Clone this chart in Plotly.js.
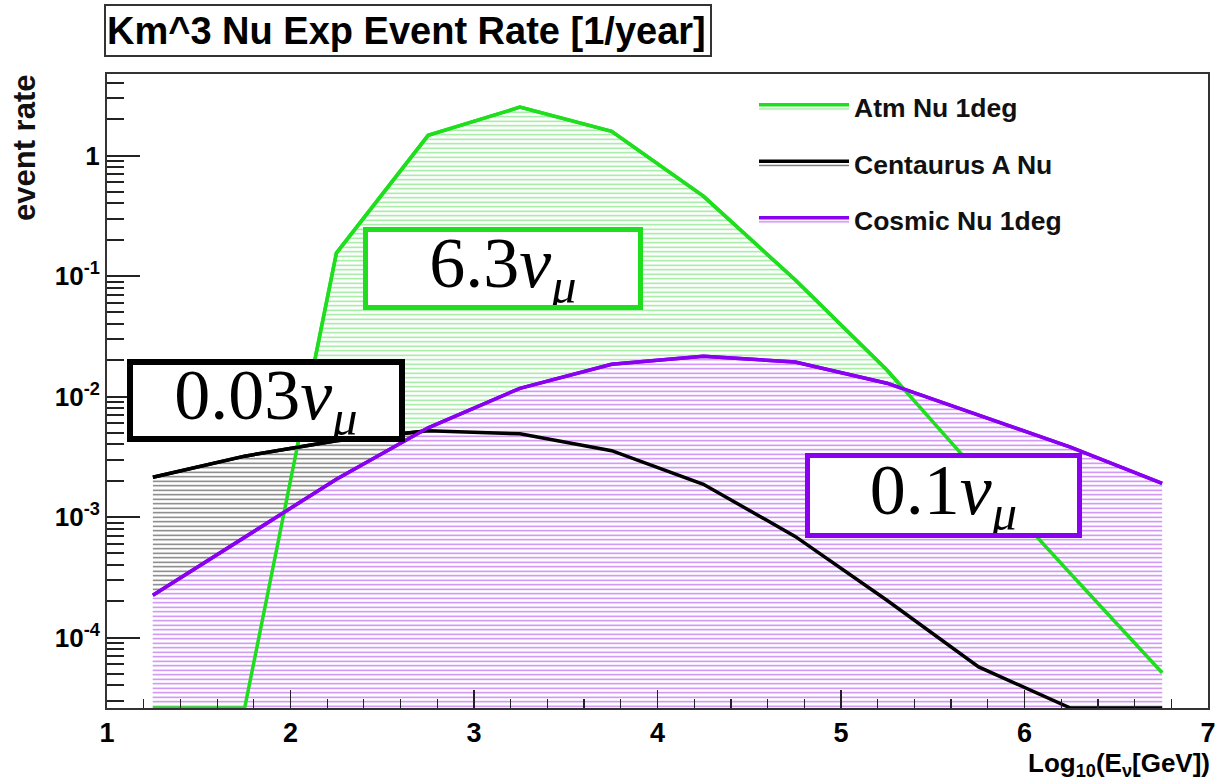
<!DOCTYPE html>
<html><head><meta charset="utf-8">
<script src="https://cdn.plot.ly/plotly-3.0.1.min.js"></script>
<style>html,body{margin:0;padding:0;background:#fff}#chart{width:1220px;height:781px}</style>
</head><body><div id="chart"></div>
<script>
// Bin centres, log10(E / GeV)
const energyLog10 = [1.25, 1.75, 2.25, 2.75, 3.25, 3.75, 4.25, 4.75, 5.25, 5.75, 6.25, 6.75];
// event rates [1/year] per bin (values at the axis floor = below range)
const atmNu       = [2.6e-5, 2.6e-5, 0.155, 1.47, 2.52, 1.59, 0.46, 0.093, 0.0166, 2.3e-3, 3.4e-4, 5.1e-5];
const centaurusNu = [2.14e-3, 3.2e-3, 4.3e-3, 5.2e-3, 4.9e-3, 3.55e-3, 1.87e-3, 6.9e-4, 2.04e-4, 5.7e-5, 2.6e-5, 2.6e-5];
const cosmicNu    = [2.24e-4, 6.8e-4, 2.06e-3, 5.5e-3, 0.0117, 0.0185, 0.0216, 0.0193, 0.0129, 7.0e-3, 3.8e-3, 1.9e-3];
const seriesNames = ['Atm Nu 1deg', 'Centaurus A Nu', 'Cosmic Nu 1deg'];
const totalLabels = ['6.3', '0.03', '0.1'];
const yTickVals = [1e-4, 1e-3, 1e-2, 1e-1, 1];
const yTickText = ['10<sup>-4</sup>', '10<sup>-3</sup>', '10<sup>-2</sup>', '10<sup>-1</sup>', '1'];
const xTickVals = [1, 2, 3, 4, 5, 6, 7];

const GREEN = 'rgb(30,222,30)';
const BLACK = 'rgb(0,0,0)';
const PURPLE = 'rgb(138,0,240)';

const seriesData = [atmNu, centaurusNu, cosmicNu];
const lineColors = [GREEN, BLACK, PURPLE];
const patternColors = ['rgba(40,210,40,0.5)', 'rgba(20,20,20,0.6)', 'rgba(160,40,235,0.6)'];

const traces = [];
// fills (with legend entries)
seriesData.forEach((ys, i) => {
  traces.push({
    type: 'scatter', mode: 'lines', x: energyLog10, y: ys, name: seriesNames[i],
    legendgroup: 'g' + i,
    line: {color: lineColors[i], width: 3.5},
    fill: 'tozeroy',
    fillpattern: {shape: '-', size: 4.5, solidity: 0.3, fgcolor: patternColors[i], bgcolor: 'white'},
    hoverinfo: 'skip'
  });
});
// lines on top
seriesData.forEach((ys, i) => {
  traces.push({
    type: 'scatter', mode: 'lines', x: energyLog10, y: ys, name: seriesNames[i],
    showlegend: false, legendgroup: 'g' + i,
    line: {color: lineColors[i], width: 3.5}, hoverinfo: 'skip'
  });
});

const L = 107, R = 1208, T = 74, B = 708;
const px = v => (v - L) / (R - L);
const py = v => (B - v) / (B - T);

const SANS = 'Liberation Sans, Arial, sans-serif';
const boxFont = {family: 'Liberation Serif, Times New Roman, serif', size: 72, color: '#000'};
function totalText(t) { return t + '<i>ν</i><sub><i>μ</i></sub>'; }

const layout = {
  width: 1220, height: 781,
  margin: {l: L, r: 1220 - R, t: T, b: 781 - B},
  paper_bgcolor: 'white', plot_bgcolor: 'white',
  showlegend: true,
  legend: {
    x: px(754), y: py(83), xanchor: 'left', yanchor: 'top',
    bgcolor: 'rgba(0,0,0,0)', borderwidth: 0,
    itemwidth: 90, tracegroupgap: 19, traceorder: 'grouped',
    font: {family: SANS, size: 26.5, color: '#111', weight: 'bold'}
  },
  xaxis: {
    range: [1, 7], tickmode: 'array', tickvals: xTickVals,
    ticks: 'inside', ticklen: 18, tickwidth: 1.5, tickcolor: '#222',
    minor: {ticks: 'inside', ticklen: 9, tickwidth: 1.2, tickcolor: '#222', tickmode: 'linear', tick0: 1, dtick: 0.2, showgrid: false},
    showline: true, linecolor: '#333', linewidth: 2, mirror: true,
    showgrid: false, zeroline: false,
    tickfont: {family: SANS, size: 27, color: '#000', weight: 'bold'}
  },
  yaxis: {
    type: 'log', range: [Math.log10(2.6e-5), Math.log10(4.75)],
    tickmode: 'array', tickvals: yTickVals, ticktext: yTickText,
    ticks: 'inside', ticklen: 33, tickwidth: 2, tickcolor: '#222',
    minor: {ticks: 'inside', ticklen: 17, tickwidth: 2, tickcolor: '#222', tickmode: 'linear', dtick: 'D1', showgrid: false},
    showline: true, linecolor: '#333', linewidth: 2, mirror: true,
    showgrid: false, zeroline: false,
    tickfont: {family: SANS, size: 26, color: '#000', weight: 'bold'}
  },
  annotations: [
    {xref: 'paper', yref: 'paper', x: px(104), y: py(4), xanchor: 'left', yanchor: 'top',
     text: 'Km^3 Nu Exp Event Rate [1/year]', showarrow: false, align: 'left',
     font: {family: SANS, size: 38, color: '#000', weight: 'bold'},
     bgcolor: 'white', bordercolor: '#333', borderwidth: 2, borderpad: 1, width: 602, height: 47},
    {xref: 'paper', yref: 'paper', x: px(24), y: py(148), xanchor: 'center', yanchor: 'middle',
     text: 'event rate', textangle: -90, showarrow: false,
     font: {family: SANS, size: 31, color: '#111', weight: 'bold'}},
    {xref: 'paper', yref: 'paper', x: px(1212), y: py(746), xanchor: 'right', yanchor: 'top',
     text: 'Log<sub>10</sub>(E<sub>ν</sub>[GeV])', showarrow: false,
     font: {family: SANS, size: 26, color: '#000', weight: 'bold'}},
    {xref: 'paper', yref: 'paper', x: px(503), y: py(268.5), xanchor: 'center', yanchor: 'middle',
     text: totalText(totalLabels[0]), showarrow: false, font: boxFont,
     bgcolor: 'white', bordercolor: GREEN, borderwidth: 5, borderpad: 0, width: 270, height: 73},
    {xref: 'paper', yref: 'paper', x: px(266), y: py(400.5), xanchor: 'center', yanchor: 'middle',
     text: totalText(totalLabels[1]), showarrow: false, font: boxFont,
     bgcolor: 'white', bordercolor: BLACK, borderwidth: 6, borderpad: 0, width: 266, height: 71},
    {xref: 'paper', yref: 'paper', x: px(943.5), y: py(495.5), xanchor: 'center', yanchor: 'middle',
     text: totalText(totalLabels[2]), showarrow: false, font: boxFont,
     bgcolor: 'white', bordercolor: PURPLE, borderwidth: 5, borderpad: 0, width: 267, height: 75}
  ]
};

Plotly.newPlot('chart', traces, layout, {displayModeBar: false, staticPlot: true});
</script>
</body></html>
